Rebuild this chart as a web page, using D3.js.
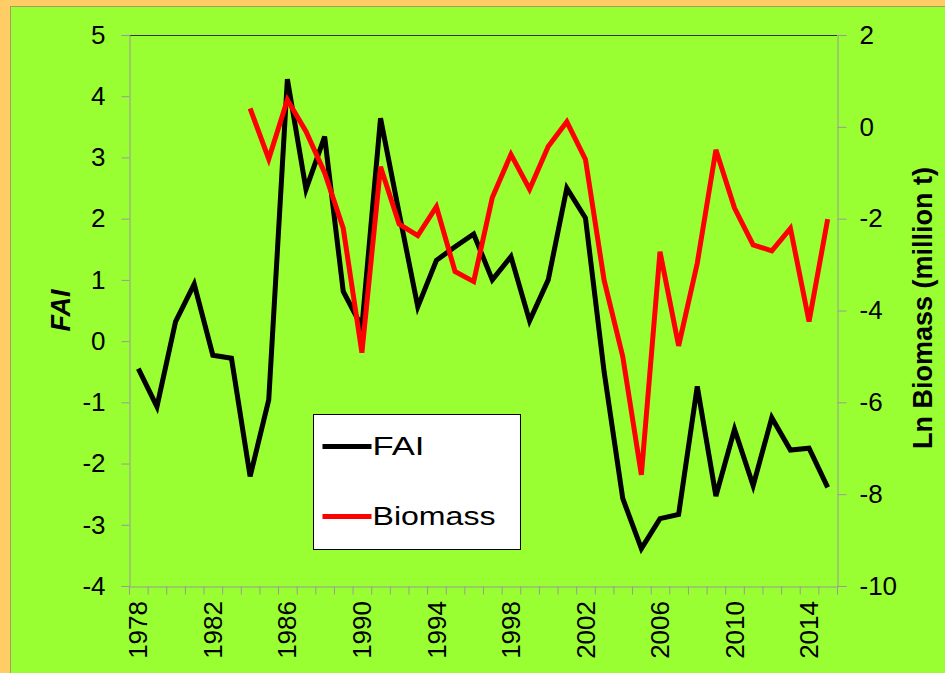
<!DOCTYPE html>
<html>
<head>
<meta charset="utf-8">
<script src="https://cdn.jsdelivr.net/npm/d3@7"></script>
<style>
  body { margin: 0; background: #FFCC66; }
  text { font-family: Arial, "Liberation Sans", sans-serif; }
</style>
</head>
<body>
<script>
// data
const years = d3.range(1978, 2016);
const fai = [-0.45, -1.07, 0.32, 0.93, -0.23, -0.28, -2.21, -0.96, 4.28, 2.48,
  3.34, 0.81, 0.23, 3.64, 2.09, 0.56, 1.32, 1.54, 1.75, 1.0,
  1.38, 0.33, 1.0, 2.5, 2.01, -0.5, -2.57, -3.39, -2.9, -2.83,
  -0.74, -2.53, -1.44, -2.36, -1.25, -1.78, -1.75, -2.39];
const biomassYears = d3.range(1984, 2016);
const biomass = [0.40, -0.70, 0.59, -0.10, -1.0, -2.21, -4.92, -0.87, -2.12, -2.37,
  -1.74, -3.15, -3.37, -1.54, -0.6, -1.36, -0.43, 0.11, -0.71, -3.34,
  -5.0, -7.58, -2.72, -4.77, -2.97, -0.5, -1.77, -2.57, -2.7, -2.21,
  -4.24, -2.01];
const leftTicks = d3.range(-4, 6, 1);
const rightTicks = d3.range(-10, 3, 2);
const yearLabels = d3.range(1978, 2016, 4);

const W = 945, H = 673;
const svg = d3.select("body").append("svg")
  .attr("width", W)
  .attr("height", H);

// background
svg.append("rect").attr("width", W).attr("height", H).attr("fill", "#FFCC66");
svg.append("rect")
  .attr("x", 10.5).attr("y", 6.5)
  .attr("width", W).attr("height", H)
  .attr("fill", "#99FF33")
  .attr("stroke", "#A0A060");

const pLeft = 129, pRight = 837, pTop = 35, pBottom = 586;

const x = d3.scaleLinear().domain([1978, 2016]).range([pLeft, pRight]);
const yL = d3.scaleLinear().domain([-4, 5]).range([pBottom, pTop]);
const yR = d3.scaleLinear().domain([-10, 2]).range([pBottom, pTop]);

// top border of plot
svg.append("line")
  .attr("x1", pLeft).attr("x2", pRight)
  .attr("y1", pTop + 0.5).attr("y2", pTop + 0.5)
  .attr("stroke", "#333");

const plain = (d) => String(d); // hyphen minus, like the original

// left axis
const gL = svg.append("g").attr("transform", `translate(${pLeft + 0.5},0)`)
  .call(d3.axisLeft(yL).tickValues(leftTicks).tickSize(8).tickPadding(16).tickFormat(plain));
gL.select(".domain").attr("stroke", "#999");
gL.selectAll(".tick line").attr("stroke", "#999");
gL.selectAll("text").attr("font-size", 26).attr("fill", "#000")
  .attr("font-family", "Arial, 'Liberation Sans', sans-serif");

// right axis
const gR = svg.append("g").attr("transform", `translate(${pRight + 0.5},0)`)
  .call(d3.axisRight(yR).tickValues(rightTicks).tickSize(9).tickPadding(13).tickFormat(plain));
gR.select(".domain").attr("stroke", "#999");
gR.selectAll(".tick line").attr("stroke", "#999");
gR.selectAll("text").attr("font-size", 26).attr("fill", "#000")
  .attr("font-family", "Arial, 'Liberation Sans', sans-serif");

// bottom axis (category ticks between years)
const gB = svg.append("g").attr("transform", `translate(0,${pBottom + 0.5})`)
  .call(d3.axisBottom(x).tickValues(d3.range(1978, 2017)).tickSize(8).tickFormat(""));
gB.select(".domain").attr("stroke", "#999");
gB.selectAll(".tick line").attr("stroke", "#999");

svg.append("g")
  .selectAll("text")
  .data(yearLabels)
  .enter()
  .append("text")
  .attr("transform", (d) => `translate(${x(d + 0.5)},601) rotate(-90)`)
  .attr("text-anchor", "end")
  .attr("dy", "0.35em")
  .attr("font-size", 26)
  .text((d) => d);

// axis titles
svg.append("text")
  .attr("transform", `translate(61,${(pTop + pBottom) / 2}) rotate(-90)`)
  .attr("text-anchor", "middle")
  .attr("dy", "0.35em")
  .attr("font-size", 27)
  .attr("font-weight", "bold")
  .attr("font-style", "italic")
  .text("FAI");
svg.append("text")
  .attr("transform", `translate(923,308) rotate(-90)`)
  .attr("text-anchor", "middle")
  .attr("dy", "0.35em")
  .attr("font-size", 27)
  .attr("font-weight", "bold")
  .text("Ln Biomass (million t)");

// lines
const lineL = d3.line().x((d, i) => x(years[i] + 0.5)).y((d) => yL(d));
const lineR = d3.line().x((d, i) => x(biomassYears[i] + 0.5)).y((d) => yR(d));

svg.append("path")
  .datum(fai)
  .attr("d", lineL)
  .attr("fill", "none")
  .attr("stroke", "#000")
  .attr("stroke-width", 5)
  .attr("stroke-linejoin", "miter");
svg.append("path")
  .datum(biomass)
  .attr("d", lineR)
  .attr("fill", "none")
  .attr("stroke", "#FF0000")
  .attr("stroke-width", 5)
  .attr("stroke-linejoin", "miter");

// legend
const lg = svg.append("g").attr("transform", "translate(313.5,414.5)");
lg.append("rect")
  .attr("width", 207).attr("height", 135)
  .attr("fill", "#fff").attr("stroke", "#000");
const legendItems = [
  { name: "FAI", color: "#000", y: 32, len: 52 },
  { name: "Biomass", color: "#FF0000", y: 102, len: 123 }
];
legendItems.forEach((d) => {
  lg.append("line")
    .attr("x1", 9).attr("x2", 58)
    .attr("y1", d.y).attr("y2", d.y)
    .attr("stroke", d.color).attr("stroke-width", 5);
  lg.append("text")
    .attr("x", 59).attr("y", d.y)
    .attr("dy", "0.35em")
    .attr("font-size", 25)
    .attr("textLength", d.len)
    .attr("lengthAdjust", "spacingAndGlyphs")
    .text(d.name);
});
</script>
</body>
</html>
